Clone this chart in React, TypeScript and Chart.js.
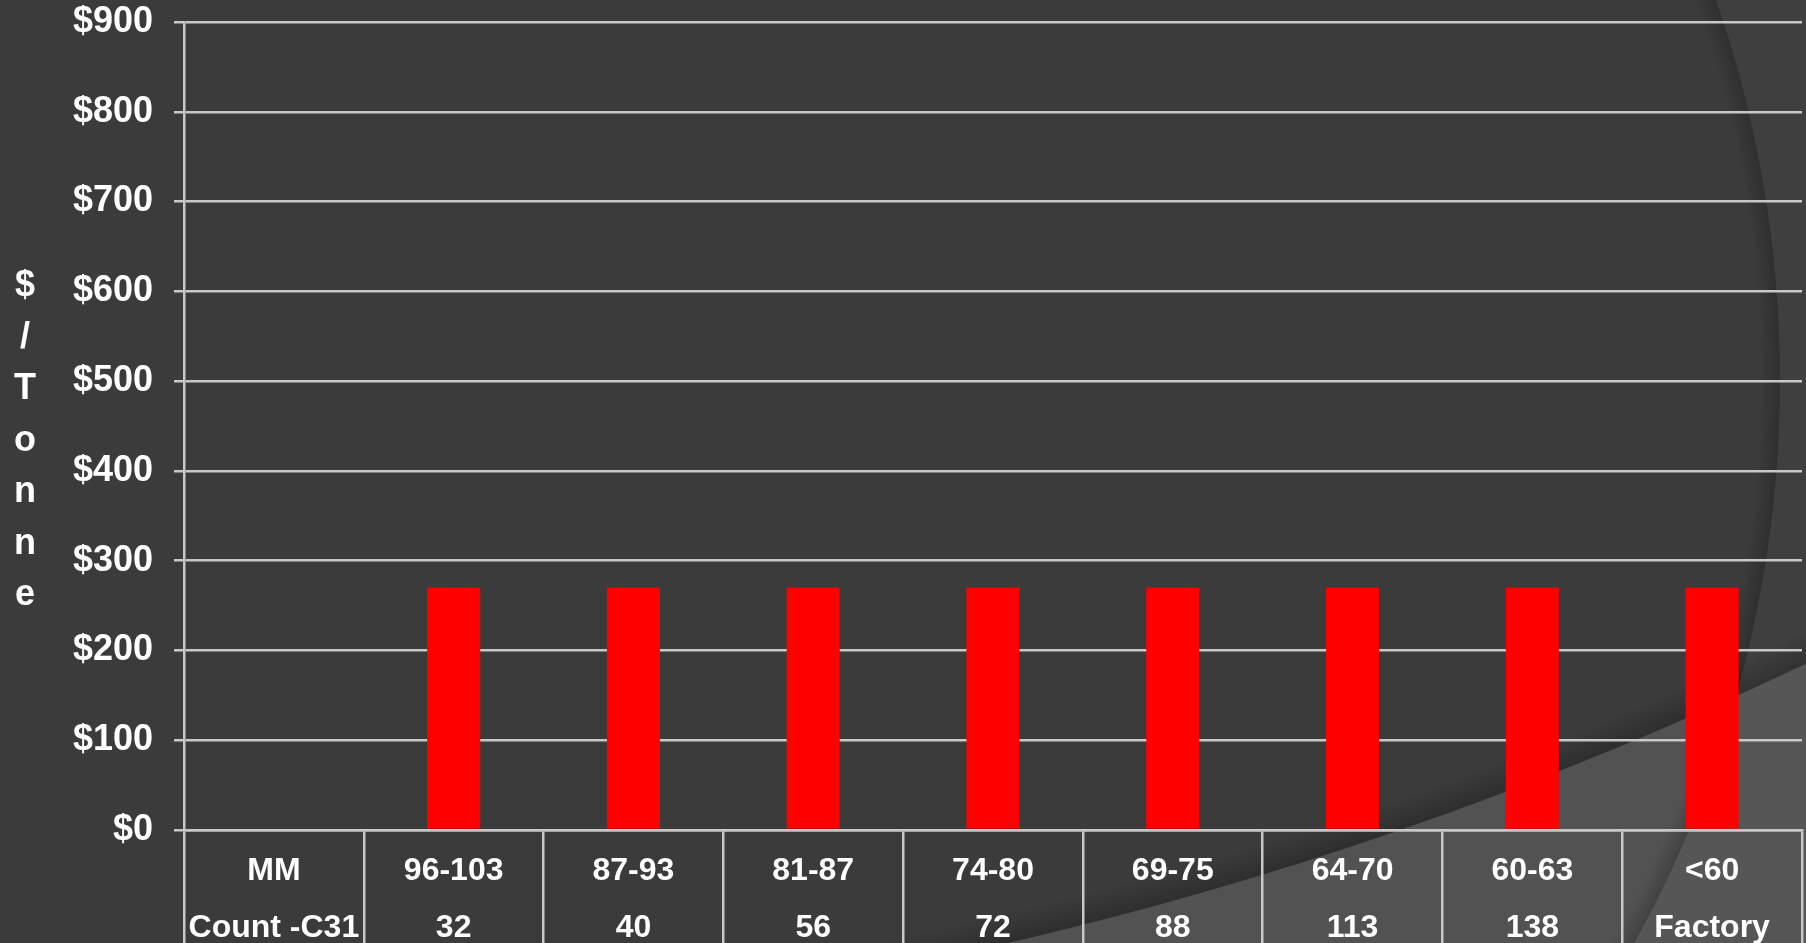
import React, { useEffect, useRef } from "react";
import { Chart, registerables } from "chart.js";

Chart.register(...registerables);

const sizeRanges = ["MM", "96-103", "87-93", "81-87", "74-80", "69-75", "64-70", "60-63", "<60"];
const countC31 = ["Count -C31", "32", "40", "56", "72", "88", "113", "138", "Factory"];
const pricePerTonne: (number | null)[] = [null, 270, 270, 270, 270, 270, 270, 270, 270];
const yTitleLetters = ["$", "/", "T", "o", "n", "n", "e"];

const FONT = "'Liberation Sans', Arial, sans-serif";
const LINE = "#c8c8c8";

const backgroundPlugin = {
  id: "themeBackground",
  beforeDraw(chart: any) {
    const { ctx, width, height } = chart;
    ctx.save();
    ctx.fillStyle = "#3b3b3b";
    ctx.fillRect(0, 0, width, height);

    // lighter swoosh bottom-right (outside big circle)
    const c2x = 120, c2y = -2873, r2 = 3918;
    ctx.beginPath();
    ctx.rect(0, 0, width, height);
    ctx.arc(c2x, c2y, r2, 0, Math.PI * 2, true);
    ctx.fillStyle = "#525252";
    ctx.fill("evenodd");
    const g2 = ctx.createRadialGradient(c2x, c2y, r2 - 30, c2x, c2y, r2);
    g2.addColorStop(0, "rgba(0,0,0,0)");
    g2.addColorStop(1, "rgba(0,0,0,0.22)");
    ctx.beginPath();
    ctx.arc(c2x, c2y, r2, 0, Math.PI * 2);
    ctx.fillStyle = g2;
    ctx.fill();

    // right arc
    const c1x = 620, c1y = 380, r1 = 1160;
    ctx.beginPath();
    ctx.rect(0, 0, width, height);
    ctx.arc(c1x, c1y, r1, 0, Math.PI * 2, true);
    ctx.fillStyle = "rgba(255,255,255,0.025)";
    ctx.fill("evenodd");
    const g1 = ctx.createRadialGradient(c1x, c1y, r1 - 20, c1x, c1y, r1);
    g1.addColorStop(0, "rgba(0,0,0,0)");
    g1.addColorStop(1, "rgba(0,0,0,0.2)");
    ctx.beginPath();
    ctx.arc(c1x, c1y, r1, 0, Math.PI * 2);
    ctx.fillStyle = g1;
    ctx.fill();
    ctx.restore();
  },
};

const yTitlePlugin = {
  id: "stackedYTitle",
  afterDraw(chart: any) {
    const { ctx } = chart;
    ctx.save();
    ctx.fillStyle = "#ffffff";
    ctx.font = `bold 36px ${FONT}`;
    ctx.textAlign = "center";
    ctx.textBaseline = "alphabetic";
    yTitleLetters.forEach((ch, i) => {
      ctx.fillText(ch, 25, 296 + i * 51.5);
    });
    ctx.restore();
  },
};

export default function App() {
  const canvasRef = useRef<HTMLCanvasElement | null>(null);

  useEffect(() => {
    if (!canvasRef.current) return;
    const chart = new Chart(canvasRef.current, {
      type: "bar",
      data: {
        labels: sizeRanges.map((s, i) => [s, countC31[i]]),
        datasets: [
          {
            label: "$/Tonne",
            data: pricePerTonne,
            backgroundColor: "#ff0000",
            borderWidth: 0,
            categoryPercentage: 1,
            barPercentage: 0.295,
          },
        ],
      },
      options: {
        animation: false,
        responsive: true,
        maintainAspectRatio: false,
        layout: { padding: { top: 0, right: 4, bottom: 0, left: 0 } },
        plugins: {
          legend: { display: false },
          tooltip: { enabled: false },
          title: { display: false },
        },
        scales: {
          x: {
            grid: {
              display: true,
              drawOnChartArea: false,
              drawTicks: true,
              tickLength: 113,
              color: LINE,
              lineWidth: 2.5,
            },
            border: { display: true, color: LINE, width: 2.5 },
            ticks: {
              color: "#ffffff",
              font: { family: FONT, size: 32, weight: "bold", lineHeight: 1.8 },
              padding: -101,
              maxRotation: 0,
              autoSkip: false,
            },
            afterFit: (scale: any) => {
              scale.height = 113;
            },
          },
          y: {
            min: 0,
            max: 900,
            grid: {
              color: LINE,
              lineWidth: 2.5,
              drawTicks: true,
              tickLength: 10,
            },
            border: { display: true, color: LINE, width: 2.5 },
            ticks: {
              stepSize: 100,
              color: "#ffffff",
              font: { family: FONT, size: 36, weight: "bold" },
              padding: 21,
              callback: (v: any) => "$" + v,
            },
            afterFit: (scale: any) => {
              scale.width = 184;
              scale.paddingTop = 22;
              scale.paddingBottom = 0;
            },
          },
        },
      },
      plugins: [backgroundPlugin, yTitlePlugin],
    });
    return () => chart.destroy();
  }, []);

  return (
    <div style={{ position: "absolute", left: 0, top: 0, width: 1806, height: 943 }}>
      <canvas ref={canvasRef} />
    </div>
  );
}
